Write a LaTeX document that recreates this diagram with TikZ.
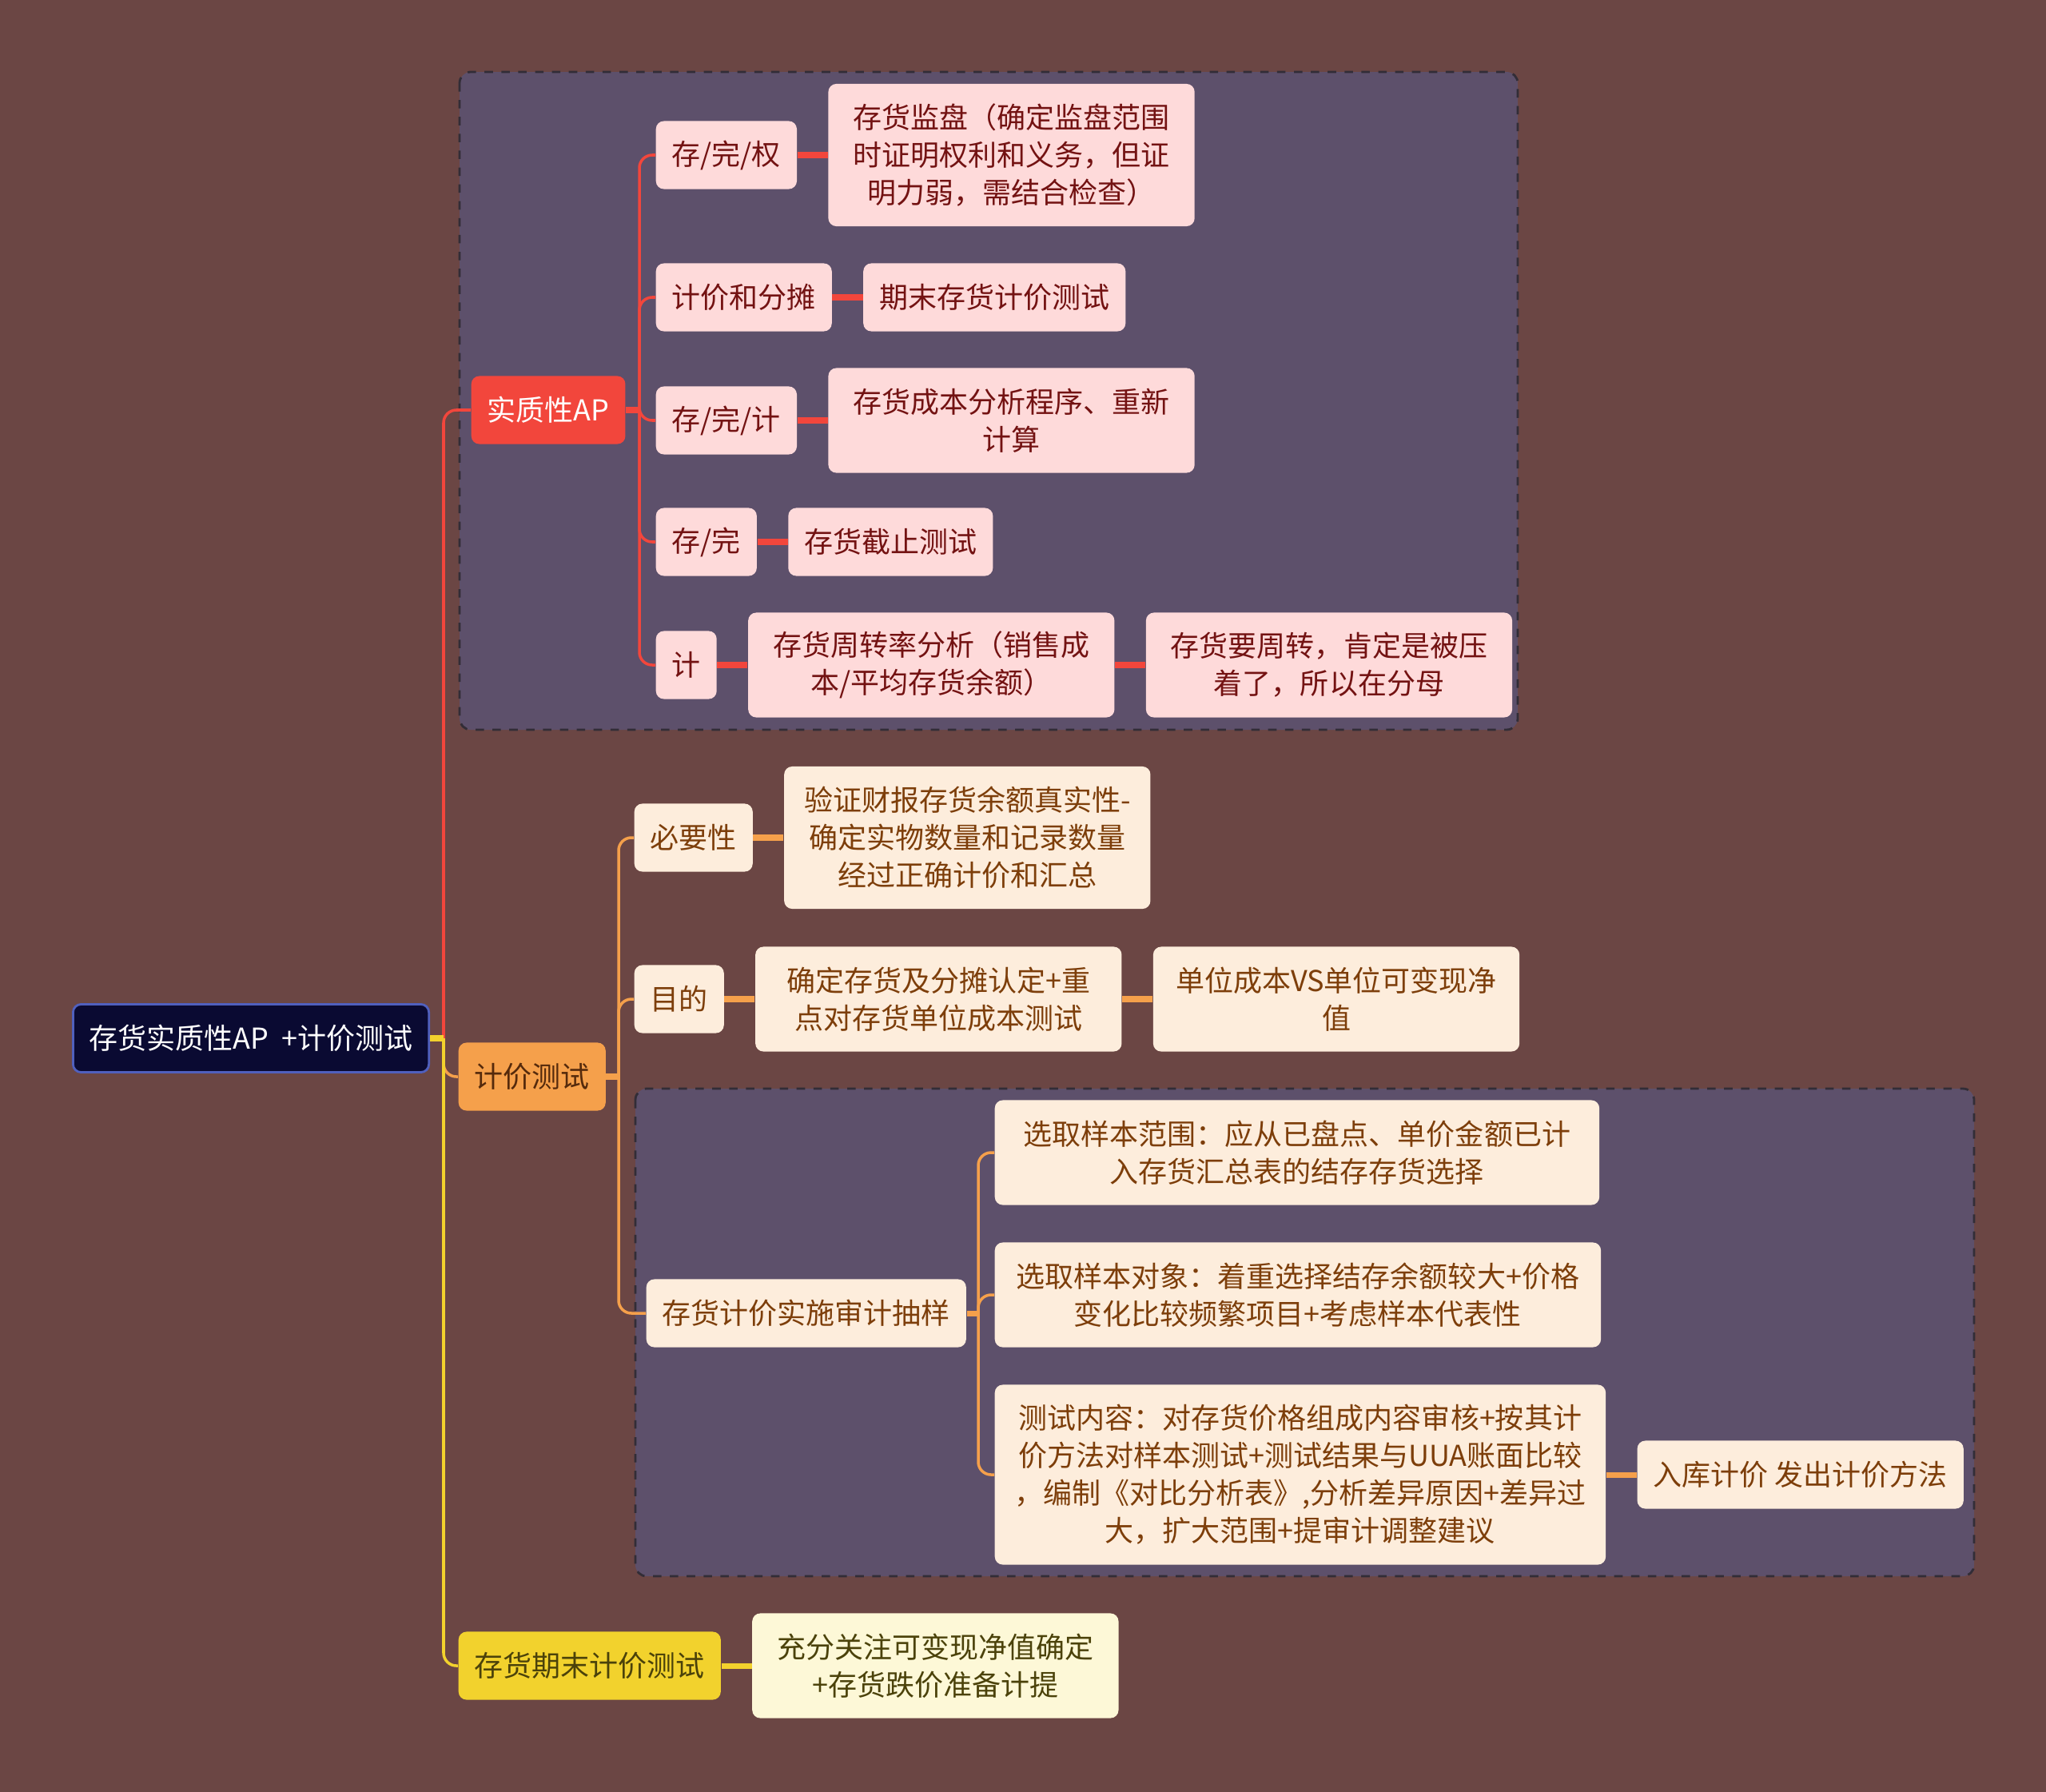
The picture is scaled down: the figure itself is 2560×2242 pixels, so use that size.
\documentclass[tikz,border=0pt]{standalone}
\usepackage{fontspec}
\setmainfont{Noto Sans CJK SC}
\usetikzlibrary{positioning}
\definecolor{bgbrown}{RGB}{107,70,68}
\definecolor{grpurple}{RGB}{93,80,107}
\definecolor{grpedge}{RGB}{50,45,55}
\definecolor{rootnavy}{RGB}{10,10,50}
\definecolor{rootedge}{RGB}{80,96,190}
\definecolor{redmain}{RGB}{242,70,60}
\definecolor{redleaf}{RGB}{254,218,218}
\definecolor{redtext}{RGB}{115,18,18}
\definecolor{orgmain}{RGB}{245,160,75}
\definecolor{orgleaf}{RGB}{253,237,220}
\definecolor{orgtext}{RGB}{125,62,10}
\definecolor{orgdark}{RGB}{85,42,12}
\definecolor{ylwmain}{RGB}{242,210,45}
\definecolor{ylwleaf}{RGB}{253,248,215}
\definecolor{ylwtext}{RGB}{75,66,10}
\newcommand{\fsz}{\fontsize{10.24pt}{13.37pt}\selectfont}

\begin{document}
\begin{tikzpicture}[x=0.01cm, y=-0.01cm,
    mmbox/.style={rounded corners=0.1cm, inner xsep=0.2cm, inner ysep=0.05cm,
      minimum height=0.85cm, align=center, font=\fsz},
    lines/.style={minimum height={0.37cm+#1*0.47cm}},
    wrap/.style={text width=#1}, wrap/.default=4.18cm,
    redbox/.style={mmbox, fill=redleaf, text=redtext},
    orgbox/.style={mmbox, fill=orgleaf, text=orgtext},
    ylwbox/.style={mmbox, fill=ylwleaf, text=ylwtext},
    redline/.style={draw=redmain, line width=1pt, rounded corners=0.16cm},
    redstub/.style={draw=redmain, line width=2pt},
    orgline/.style={draw=orgmain, line width=1pt, rounded corners=0.16cm},
    orgstub/.style={draw=orgmain, line width=2pt},
    ylwline/.style={draw=ylwmain, line width=1pt, rounded corners=0.16cm},
    ylwstub/.style={draw=ylwmain, line width=2pt},
    grpframe/.style={draw=grpedge, dashed, fill=grpurple, rounded corners=0.14cm, line width=0.8pt}]

    % background and dashed groups
    \fill[bgbrown] (0,0) rectangle (2560,2242);
    \draw[grpframe] (575,90) rectangle (1899,913);
    \draw[grpframe] (795,1362) rectangle (2470,1972);

    % root and first level
    \node[mmbox, anchor=west, fill=rootnavy, draw=rootedge, line width=0.8pt, text=white, minimum width=4.45cm] (root) at (90,1299) {存货实质性AP\ \ +计价测试};
    \node[mmbox, anchor=west, fill=redmain, text=white] (shizhi) at (589,513) {实质性AP};
    \node[mmbox, anchor=west, fill=orgmain, text=orgdark] (jijia) at (573,1347) {计价测试};
    \node[mmbox, anchor=west, fill=ylwmain, text=ylwtext] (qimo) at (573,2084) {存货期末计价测试};

    % substantive procedures
    \node[redbox, anchor=west] (r1) at (820,194) {存/完/权};
    \node[redbox, wrap, lines=3, right=0.38cm of r1] (r1a) {存货监盘（确定监盘范围\\时证明权利和义务，但证\\明力弱，需结合检查）};
    \node[redbox, anchor=west] (r2) at (820,372) {计价和分摊};
    \node[redbox, right=0.38cm of r2] (r2a) {期末存货计价测试};
    \node[redbox, anchor=west] (r3) at (820,526) {存/完/计};
    \node[redbox, wrap, lines=2, right=0.38cm of r3] (r3a) {存货成本分析程序、重新\\计算};
    \node[redbox, anchor=west] (r4) at (820,678) {存/完};
    \node[redbox, right=0.38cm of r4] (r4a) {存货截止测试};
    \node[redbox, anchor=west] (r5) at (820,832) {计};
    \node[redbox, wrap, lines=2, right=0.38cm of r5] (r5a) {存货周转率分析（销售成\\本/平均存货余额）};
    \node[redbox, wrap, lines=2, right=0.38cm of r5a] (r5b) {存货要周转，肯定是被压\\着了，所以在分母};

    % pricing test
    \node[orgbox, anchor=west] (o1) at (793,1048) {必要性};
    \node[orgbox, wrap, lines=3, right=0.38cm of o1] (o1a) {验证财报存货余额真实性-\\确定实物数量和记录数量\\经过正确计价和汇总};
    \node[orgbox, anchor=west] (o2) at (793,1250) {目的};
    \node[orgbox, wrap, lines=2, right=0.38cm of o2] (o2a) {确定存货及分摊认定+重\\点对存货单位成本测试};
    \node[orgbox, wrap, lines=2, right=0.38cm of o2a] (o2b) {单位成本VS单位可变现净\\值};
    \node[orgbox, anchor=west] (o3) at (808,1643) {存货计价实施审计抽样};
    \node[orgbox, wrap=7.16cm, lines=2, anchor=west] (o3a) at (1244,1442) {选取样本范围：应从已盘点、单价金额已计\\入存货汇总表的结存存货选择};
    \node[orgbox, wrap=7.18cm, lines=2, anchor=west] (o3b) at (1244,1620) {选取样本对象：着重选择结存余额较大+价格\\变化比较频繁项目+考虑样本代表性};
    \node[orgbox, wrap=7.24cm, lines=4, anchor=west] (o3c) at (1244,1845) {测试内容：对存货价格组成内容审核+按其计\\价方法对样本测试+测试结果与UUA账面比较\\，编制《对比分析表》,分析差异原因+差异过\\大，扩大范围+提审计调整建议};
    \node[orgbox, right=0.38cm of o3c] (o3d) {入库计价 发出计价方法};

    % period-end test
    \node[ylwbox, wrap, lines=2, right=0.38cm of qimo] (y1) {充分关注可变现净值确定\\+存货跌价准备计提};

    % connectors
    \coordinate (tr0) at (555,1299);
    \coordinate (tr1) at (800,513);
    \coordinate (tr2) at (774,1347);
    \coordinate (tr3) at (1224,1643);
    \draw[redline] (tr0) |- (shizhi.west);
    \draw[orgline] (tr0) |- (jijia.west);
    \draw[ylwline] (tr0) |- (qimo.west);
    \draw[ylwstub] (root.east) -- (tr0);

    \draw[redstub] (shizhi.east) -- (tr1);
    \foreach \n in {r1,r2,r3,r4,r5}
      \draw[redline] (tr1) |- (\n.west);
    \foreach \a/\b in {r1/r1a,r2/r2a,r3/r3a,r4/r4a,r5/r5a,r5a/r5b}
      \draw[redstub] (\a.east) -- (\b.west);

    \draw[orgstub] (jijia.east) -- (tr2);
    \foreach \n in {o1,o2,o3}
      \draw[orgline] (tr2) |- (\n.west);
    \draw[orgstub] (o3.east) -- (tr3);
    \foreach \n in {o3a,o3b,o3c}
      \draw[orgline] (tr3) |- (\n.west);
    \foreach \a/\b in {o1/o1a,o2/o2a,o2a/o2b,o3c/o3d}
      \draw[orgstub] (\a.east) -- (\b.west);
    \draw[ylwstub] (qimo.east) -- (y1.west);
\end{tikzpicture}
\end{document}
